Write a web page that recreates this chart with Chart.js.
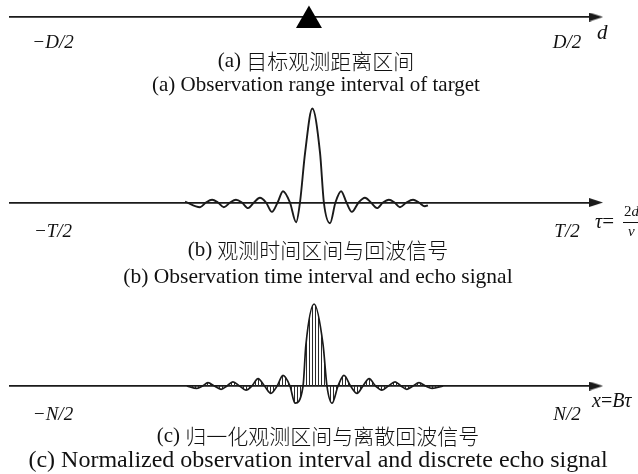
<!DOCTYPE html>
<html>
<head>
<meta charset="utf-8">
<title>Observation interval and echo signal</title>
<script src="https://cdn.jsdelivr.net/npm/chart.js@4/dist/chart.umd.min.js"></script>
<style>
  body { margin: 0; background: #fff; }
  #wrap { position: relative; width: 638px; height: 474px; overflow: hidden; }
  canvas { position: absolute; left: 0; }
</style>
</head>
<body>
<div id="wrap">
  <canvas id="panelA" width="638" height="100" style="top:0"></canvas>
  <canvas id="panelB" width="638" height="190" style="top:100px"></canvas>
  <canvas id="panelC" width="638" height="184" style="top:290px"></canvas>
</div>
<script>
// Positions are in units of half the observation interval: -1 is the left end, 1 the right end.
// Amplitudes are normalised so the main lobe peak is 1.

// (a) target on the range axis
const targetPos = [-0.004];
const targetLevel = [-0.23];

// (b) continuous echo signal
const echoX = [-0.486, -0.428, -0.405, -0.381, -0.358, -0.335, -0.311, -0.288, -0.265, -0.241,
  -0.218, -0.195, -0.171, -0.148, -0.126, -0.105, -0.078, -0.054, -0.039, -0.019,
  0.009, 0.039, 0.054, 0.078, 0.099, 0.121, 0.142, 0.163, 0.189, 0.214,
  0.237, 0.261, 0.284, 0.307, 0.329, 0.350, 0.375, 0.401, 0.424, 0.447, 0.459];
const echoY = [0.01, -0.05, 0, 0.03, 0, -0.05, 0, 0.03, 0, -0.06,
  0, 0.05, 0, -0.10, 0, 0.12, 0, -0.21, 0, 0.53,
  1.0, 0.53, 0, -0.22, 0, 0.12, 0, -0.10, 0, 0.05,
  0, -0.06, 0, 0.03, 0, -0.05, 0, 0.03, 0, -0.04, -0.03];

// (c) sampled echo signal on the normalised axis
const discreteX = [-0.479, -0.440, -0.418, -0.397, -0.372, -0.346, -0.323, -0.300, -0.274, -0.249,
  -0.226, -0.202, -0.177, -0.152, -0.128, -0.105, -0.078, -0.058, -0.027, -0.016,
  0.016, 0.051, 0.066, 0.086, 0.109, 0.132, 0.158, 0.183, 0.206, 0.230,
  0.255, 0.280, 0.305, 0.331, 0.354, 0.377, 0.401, 0.424, 0.449, 0.475, 0.518];
const discreteY = [0, -0.03, 0, 0.04, 0, -0.04, 0, 0.05, 0, -0.05,
  0, 0.09, 0, -0.09, 0, 0.13, 0, -0.21, 0, 0.5,
  1.0, 0.5, 0, -0.21, 0, 0.13, 0, -0.09, 0, 0.09,
  0, -0.05, 0, 0.05, 0, -0.04, 0, 0.04, 0, -0.03, 0];

const tickLabelsA = ['\u2212D/2', 'D/2'];
const tickLabelsB = ['\u2212T/2', 'T/2'];
const tickLabelsC = ['\u2212N/2', 'N/2'];

// captions: [tag, Chinese title, English title]
const captionA = ['(a) ', '目标观测距离区间', '(a) Observation range interval of target'];
const captionB = ['(b) ', '观测时间区间与回波信号', '(b) Observation time interval and echo signal'];
const captionC = ['(c) ', '归一化观测区间与离散回波信号', '(c) Normalized observation interval and discrete echo signal'];

// visible extent of each axis line
const xMin = -1.1673;
const xMax = 1.109;

const INK = '#1a1a1a';
const SERIF = '"Liberation Serif", "Times New Roman", serif';
const CJK = '"Noto Sans CJK SC", sans-serif';

function toPoints(xs, ys) {
    return xs.map((x, i) => ({ x: x, y: ys[i] }));
}

// slim arrowhead used as the point style at the end of each axis
function arrowHead() {
    const c = document.createElement('canvas');
    c.width = 14;
    c.height = 9;
    const g = c.getContext('2d');
    g.fillStyle = INK;
    g.beginPath();
    g.moveTo(0, 0);
    g.lineTo(14, 4.5);
    g.lineTo(0, 9);
    g.closePath();
    g.fill();
    return c;
}

// vertical hatching for the sample stems under the discrete signal
function stemPattern() {
    const c = document.createElement('canvas');
    c.width = 3;
    c.height = 2;
    const g = c.getContext('2d');
    g.fillStyle = '#2a2a2a';
    g.fillRect(0, 0, 1, 2);
    return g.createPattern(c, 'repeat');
}

function xAxis(labels, pad) {
    return {
        type: 'linear',
        min: xMin,
        max: xMax,
        position: { y: 0 },
        grid: { display: false, drawTicks: false },
        border: { display: true, color: INK, width: 1.8 },
        afterBuildTicks: (scale) => { scale.ticks = [{ value: -1 }, { value: 1 }]; },
        afterFit: (scale) => { scale.height = 0; },
        ticks: {
            padding: pad,
            maxRotation: 0,
            autoSkip: false,
            color: '#111',
            font: { family: SERIF, size: 19, style: 'italic' },
            callback: (v) => v < 0 ? labels[0] : labels[1]
        }
    };
}

function arrowDataset() {
    return {
        data: [{ x: xMax + 0.004, y: 0 }],
        showLine: false,
        pointStyle: arrowHead(),
        pointRadius: 7,
        clip: false
    };
}

// draws text pieces left to right, each with its own font
function drawRuns(ctx, x, y, runs) {
    runs.forEach(([text, font]) => {
        ctx.font = font;
        ctx.fillText(text, x, y);
        x += ctx.measureText(text).width;
    });
}

function runsWidth(ctx, runs) {
    return runs.reduce((w, [text, font]) => {
        ctx.font = font;
        return w + ctx.measureText(text).width;
    }, 0);
}

function drawCaption(ctx, cap, cx, y1, y2, enSize) {
    const zh = [[cap[0], '21px ' + SERIF], [cap[1], '300 21px ' + CJK]];
    drawRuns(ctx, cx - runsWidth(ctx, zh) / 2, y1, zh);
    ctx.font = enSize + 'px ' + SERIF;
    ctx.textAlign = 'center';
    ctx.fillText(cap[2], cx, y2);
    ctx.textAlign = 'left';
}

function textPlugin(draw) {
    return {
        id: 'panelText',
        afterDraw(chart) {
            const ctx = chart.ctx;
            const axisY = chart.scales.y.getPixelForValue(0);
            const right = chart.scales.x.right;
            ctx.save();
            ctx.fillStyle = '#111';
            ctx.textBaseline = 'middle';
            draw(ctx, right, axisY);
            ctx.restore();
        }
    };
}

function makePanel(id, datasets, yMin, yMax, padding, labels, tickPad, draw) {
    return new Chart(document.getElementById(id), {
        type: 'line',
        data: { datasets: datasets },
        options: {
            responsive: false,
            animation: false,
            layout: { padding: padding, autoPadding: false },
            plugins: { legend: { display: false }, tooltip: { enabled: false } },
            scales: {
                x: xAxis(labels, tickPad),
                y: { display: false, min: yMin, max: yMax }
            }
        },
        plugins: [textPlugin(draw)]
    });
}

const it = (px) => 'italic ' + px + 'px ' + SERIF;
const up = (px) => px + 'px ' + SERIF;

// (a) range axis with the target
makePanel('panelA', [
    {
        data: toPoints(targetPos, targetLevel),
        showLine: false,
        pointStyle: 'triangle',
        pointRadius: 15,
        backgroundColor: '#000',
        borderColor: '#000',
        borderWidth: 0,
        clip: false
    },
    arrowDataset()
], -1, 1, { top: 2, bottom: 68, left: 10, right: 43 }, tickLabelsA, 14.6, (ctx, right, axisY) => {
    drawRuns(ctx, right + 2, axisY + 16, [['d', it(21)]]);
    drawCaption(ctx, captionA, 316, 61, 85, 21);
});

// (b) time axis with the echo signal
makePanel('panelB', [
    {
        data: toPoints(echoX, echoY),
        borderColor: INK,
        borderWidth: 1.9,
        pointRadius: 0,
        cubicInterpolationMode: 'monotone',
        fill: false
    },
    arrowDataset()
], -0.3, 1.08, { top: 1, bottom: 59.3, left: 10, right: 43 }, tickLabelsB, 18.5, (ctx, right, axisY) => {
    const y = axisY + 20;
    drawRuns(ctx, right, y, [['\u03c4', it(20)], ['=', up(21)]]);
    const fx = right + 28;
    ctx.fillRect(fx, y - 0.5, 16, 1);
    drawRuns(ctx, fx + 1, y - 10, [['2', up(15)], ['d', it(15)]]);
    drawRuns(ctx, fx + 5, y + 10, [['v', it(15)]]);
    drawCaption(ctx, captionB, 318, 150, 177, 21.5);
});

// (c) normalised axis with the sampled echo
makePanel('panelC', [
    {
        data: toPoints(discreteX, discreteY),
        borderColor: INK,
        borderWidth: 1.7,
        pointRadius: 0,
        cubicInterpolationMode: 'monotone',
        fill: 'origin',
        backgroundColor: stemPattern()
    },
    arrowDataset()
], -0.35, 1.15, { top: 1.7, bottom: 59.3, left: 10, right: 43 }, tickLabelsC, 18, (ctx, right, axisY) => {
    drawRuns(ctx, right - 3, axisY + 16, [['x', it(20)], ['=', up(20)], ['B', it(20)], ['\u03c4', it(20)]]);
    drawCaption(ctx, captionC, 318, 146, 171, 24);
});
</script>
</body>
</html>
